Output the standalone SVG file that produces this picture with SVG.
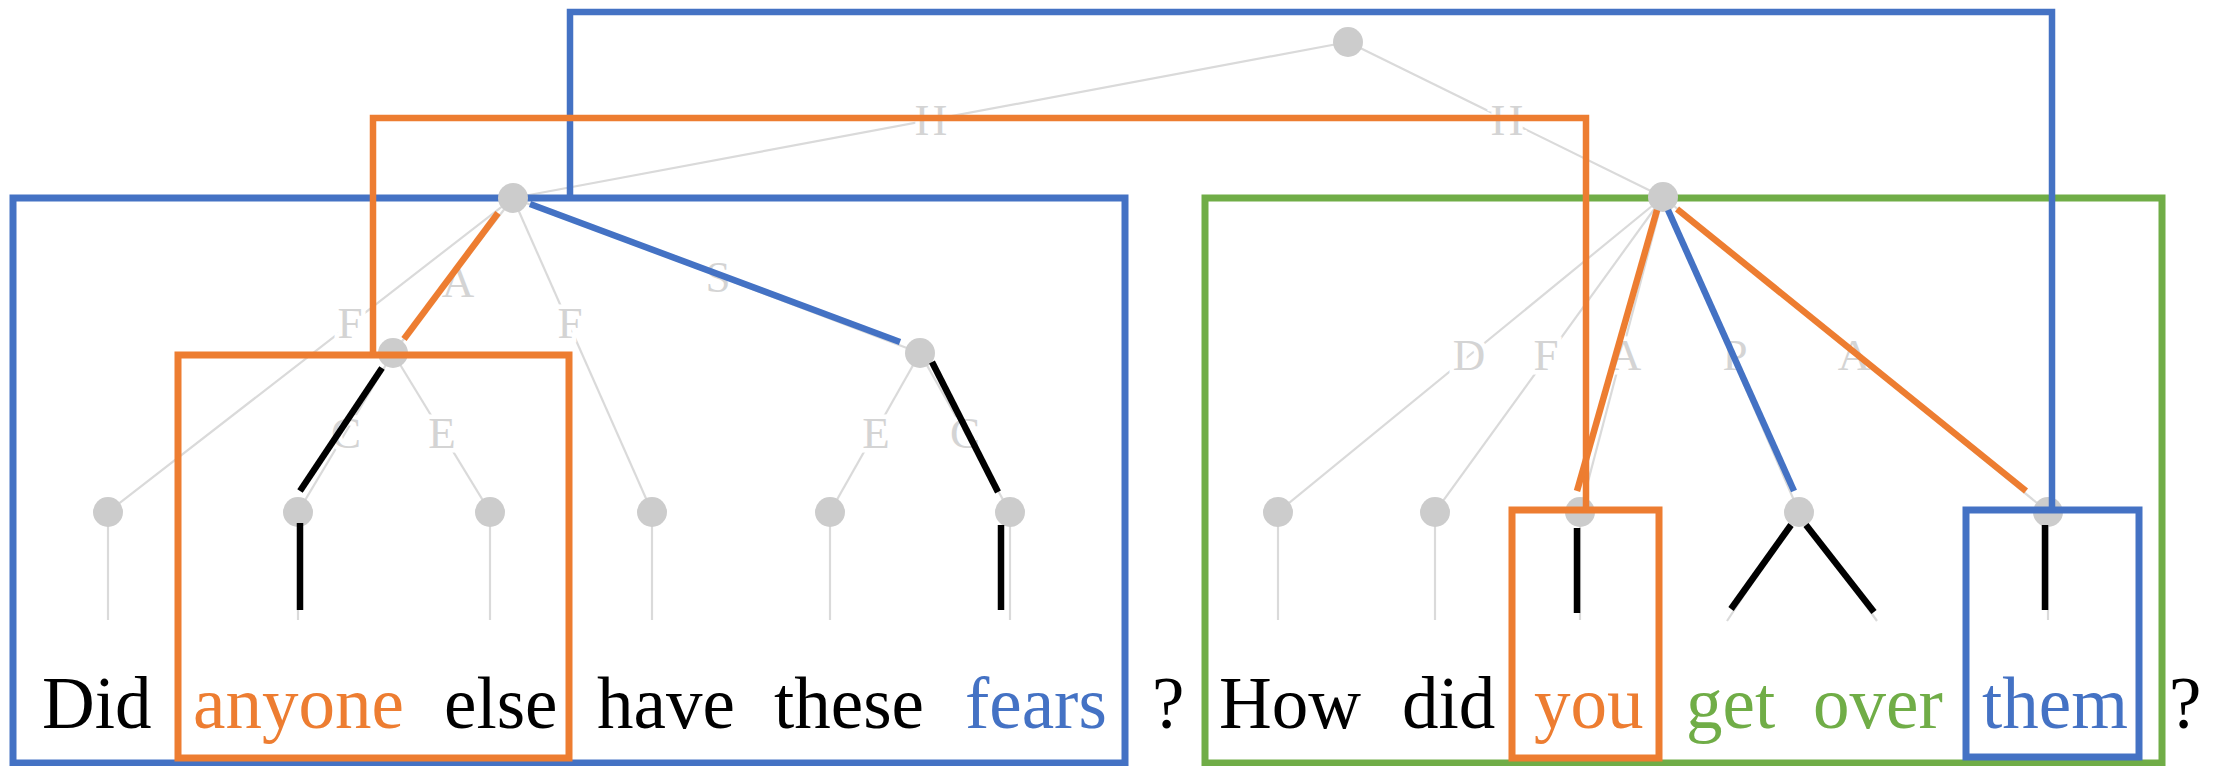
<svg xmlns="http://www.w3.org/2000/svg" width="2228" height="766" viewBox="0 0 2228 766">
<style>
  .edge{stroke:#DADADA;stroke-width:2.2;fill:none}
  .lbl{font-family:"Liberation Serif","Times New Roman",serif;font-size:45px;fill:#D4D4D4;text-anchor:middle;stroke:#FFFFFF;stroke-width:9;paint-order:stroke}
  .node{fill:#CCCCCC}
  .word{font-family:"Liberation Serif","Times New Roman",serif;font-size:73px;fill:#000000}
  .box{fill:none;stroke-width:7}
  .blue{stroke:#4472C4}
  .orange{stroke:#ED7D31}
  .green{stroke:#70AD47}
  .conn{fill:none;stroke-width:6.5;stroke-linecap:butt;stroke-linejoin:miter}
  .blk{stroke:#000000;stroke-width:6.5;fill:none}
  .tb{fill:#4472C4}
  .to{fill:#ED7D31}
  .tg{fill:#70AD47}
</style>
<rect width="2228" height="766" fill="#FFFFFF"/>

<g id="tree-edges">
  <line class="edge" x1="1348" y1="42" x2="513" y2="198"/>
  <line class="edge" x1="1348" y1="42" x2="1663" y2="197"/>
  <line class="edge" x1="513" y1="198" x2="108" y2="512"/>
  <line class="edge" x1="513" y1="198" x2="393" y2="353"/>
  <line class="edge" x1="513" y1="198" x2="652" y2="512"/>
  <line class="edge" x1="513" y1="198" x2="920" y2="353"/>
  <line class="edge" x1="393" y1="353" x2="298" y2="512"/>
  <line class="edge" x1="393" y1="353" x2="490" y2="512"/>
  <line class="edge" x1="920" y1="353" x2="830" y2="512"/>
  <line class="edge" x1="920" y1="353" x2="1010" y2="512"/>
  <line class="edge" x1="1663" y1="197" x2="1278" y2="512"/>
  <line class="edge" x1="1663" y1="197" x2="1435" y2="512"/>
  <line class="edge" x1="1663" y1="197" x2="1580" y2="512"/>
  <line class="edge" x1="1663" y1="197" x2="1799" y2="512"/>
  <line class="edge" x1="1663" y1="197" x2="2048" y2="512"/>
  <line class="edge" x1="1799" y1="512" x2="1727" y2="621"/>
  <line class="edge" x1="1799" y1="512" x2="1877" y2="621"/>
  <line class="edge" x1="108" y1="512" x2="108" y2="620"/>
  <line class="edge" x1="298" y1="512" x2="298" y2="620"/>
  <line class="edge" x1="490" y1="512" x2="490" y2="620"/>
  <line class="edge" x1="652" y1="512" x2="652" y2="620"/>
  <line class="edge" x1="830" y1="512" x2="830" y2="620"/>
  <line class="edge" x1="1010" y1="512" x2="1010" y2="620"/>
  <line class="edge" x1="1278" y1="512" x2="1278" y2="620"/>
  <line class="edge" x1="1435" y1="512" x2="1435" y2="620"/>
  <line class="edge" x1="1580" y1="512" x2="1580" y2="620"/>
  <line class="edge" x1="2048" y1="512" x2="2048" y2="620"/>
</g>

<g id="edge-labels">
  <text class="lbl" x="931" y="135">H</text>
  <text class="lbl" x="1507" y="135">H</text>
  <text class="lbl" x="458" y="297">A</text>
  <text class="lbl" x="718" y="292">S</text>
  <text class="lbl" x="350" y="338">F</text>
  <text class="lbl" x="570" y="338">F</text>
  <text class="lbl" x="346" y="448">C</text>
  <text class="lbl" x="442" y="448">E</text>
  <text class="lbl" x="876" y="448">E</text>
  <text class="lbl" x="965" y="448">C</text>
  <text class="lbl" x="1469" y="370">D</text>
  <text class="lbl" x="1546" y="370">F</text>
  <text class="lbl" x="1625" y="370">A</text>
  <text class="lbl" x="1735" y="370">P</text>
  <text class="lbl" x="1854" y="370">A</text>
</g>

<g id="box-sentence1"><rect class="box blue" x="13" y="198" width="1112" height="565"/></g>
<g id="box-sentence2"><rect class="box green" x="1205" y="198" width="957" height="565"/></g>

<g id="node-root"><circle class="node" cx="1348" cy="42" r="15"/></g>
<g id="node-left"><circle class="node" cx="513" cy="198" r="15"/></g>
<g id="node-right"><circle class="node" cx="1663" cy="197" r="15"/></g>
<g id="node-anyone-else"><circle class="node" cx="393" cy="353" r="15"/></g>
<g id="node-these-fears"><circle class="node" cx="920" cy="353" r="15"/></g>
<g id="node-did1"><circle class="node" cx="108" cy="512" r="15"/></g>
<g id="node-anyone"><circle class="node" cx="298" cy="512" r="15"/></g>
<g id="node-else"><circle class="node" cx="490" cy="512" r="15"/></g>
<g id="node-have"><circle class="node" cx="652" cy="512" r="15"/></g>
<g id="node-these"><circle class="node" cx="830" cy="512" r="15"/></g>
<g id="node-fears"><circle class="node" cx="1010" cy="512" r="15"/></g>
<g id="node-how"><circle class="node" cx="1278" cy="512" r="15"/></g>
<g id="node-did2"><circle class="node" cx="1435" cy="512" r="15"/></g>
<g id="node-you"><circle class="node" cx="1580" cy="512" r="15"/></g>
<g id="node-getover"><circle class="node" cx="1799" cy="512" r="15"/></g>
<g id="node-them"><circle class="node" cx="2048" cy="512" r="15"/></g>

<g id="box-anyone-else"><rect class="box orange" x="178" y="355" width="391" height="403"/></g>
<g id="box-you"><rect class="box orange" x="1512" y="510" width="147" height="248"/></g>
<g id="box-them"><rect class="box blue" x="1966" y="510" width="173" height="247"/></g>

<g id="connectors">
  <polyline class="conn blue" points="570,198 570,12 2052,12 2052,510"/>
  <polyline class="conn orange" points="373,355 373,118 1586,118 1586,510"/>
  <line class="conn blue" x1="530" y1="204" x2="900" y2="342"/>
  <line class="conn orange" x1="498" y1="213" x2="404" y2="339"/>
  <line class="conn orange" x1="1657" y1="210" x2="1577" y2="491"/>
  <line class="conn blue" x1="1668" y1="210" x2="1794" y2="491"/>
  <line class="conn orange" x1="1677" y1="209" x2="2026" y2="491"/>
  <line class="blk" x1="382" y1="368" x2="300" y2="491"/>
  <line class="blk" x1="300" y1="523" x2="300" y2="610"/>
  <line class="blk" x1="932" y1="362" x2="998" y2="492"/>
  <line class="blk" x1="1001" y1="525" x2="1001" y2="610"/>
  <line class="blk" x1="1577" y1="528" x2="1577" y2="613"/>
  <line class="blk" x1="1791" y1="525" x2="1731" y2="609"/>
  <line class="blk" x1="1806" y1="525" x2="1874" y2="612"/>
  <line class="blk" x1="2045" y1="525" x2="2045" y2="610"/>
</g>

<g id="words">
  <text class="word" x="42" y="728">Did</text>
  <text class="word to" x="193" y="728">anyone</text>
  <text class="word" x="444" y="728">else</text>
  <text class="word" x="597" y="728">have</text>
  <text class="word" x="774" y="728">these</text>
  <text class="word tb" x="965" y="728">fears</text>
  <text class="word" x="1152" y="728">?</text>
  <text class="word" x="1219" y="728">How</text>
  <text class="word" x="1402" y="728">did</text>
  <text class="word to" x="1534" y="728">you</text>
  <text class="word tg" x="1686" y="728">get</text>
  <text class="word tg" x="1813" y="728">over</text>
  <text class="word tb" x="1982" y="728">them</text>
  <text class="word" x="2169" y="728">?</text>
</g>
</svg>
